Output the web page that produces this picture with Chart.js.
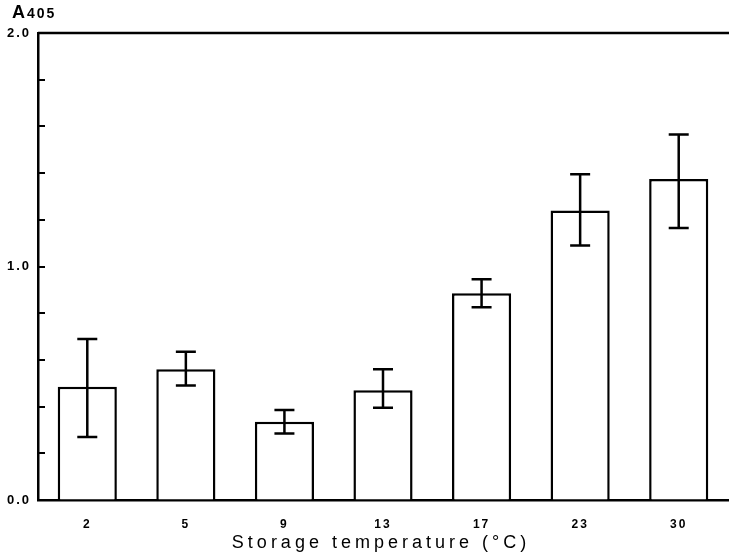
<!DOCTYPE html>
<html>
<head>
<meta charset="utf-8">
<script src="https://cdn.jsdelivr.net/npm/chart.js@4"></script>
<style>
  body { margin: 0; background: #fff; }
</style>
</head>
<body>
<canvas id="bar-chart" width="729" height="556"></canvas>
<script>
var temps = ['2', '5', '9', '13', '17', '23', '30'];
var means = [0.485, 0.56, 0.335, 0.47, 0.885, 1.24, 1.375];
var upper = [0.69, 0.635, 0.385, 0.56, 0.945, 1.395, 1.565];
var lower = [0.27, 0.49, 0.285, 0.395, 0.825, 1.09, 1.165];

var ctx = document.getElementById('bar-chart');

// error bars, inward y ticks, top frame line and the letter-spaced text
var extras = {
  id: 'extras',
  beforeDraw: function (chart) {
    chart.ctx.letterSpacing = '2px';
  },
  afterDatasetsDraw: function (chart) {
    var c = chart.ctx;
    var y = chart.scales.y;
    var meta = chart.getDatasetMeta(0);
    c.save();
    c.strokeStyle = '#000';
    c.lineWidth = 2.5;
    meta.data.forEach(function (bar, i) {
      var hi = y.getPixelForValue(upper[i]);
      var lo = y.getPixelForValue(lower[i]);
      c.beginPath();
      c.moveTo(bar.x, hi);
      c.lineTo(bar.x, lo);
      c.moveTo(bar.x - 10, hi);
      c.lineTo(bar.x + 10, hi);
      c.moveTo(bar.x - 10, lo);
      c.lineTo(bar.x + 10, lo);
      c.stroke();
    });
    c.restore();
  },
  afterDraw: function (chart) {
    var c = chart.ctx;
    var a = chart.chartArea;
    var y = chart.scales.y;
    c.save();
    c.strokeStyle = '#000';
    c.lineWidth = 2.5;
    c.beginPath();
    c.moveTo(a.left, a.top);
    c.lineTo(chart.width, a.top);
    c.stroke();

    c.lineWidth = 2;
    c.beginPath();
    y.ticks.forEach(function (t) {
      var py = Math.round(y.getPixelForValue(t.value));
      c.moveTo(a.left, py);
      c.lineTo(a.left + 7, py);
    });
    c.stroke();

    c.fillStyle = '#000';
    c.textBaseline = 'alphabetic';
    c.textAlign = 'left';
    c.letterSpacing = '0px';
    c.font = 'bold 18px "Liberation Sans", Arial, sans-serif';
    c.fillText('A', 12, 18);
    c.letterSpacing = '2px';
    c.font = 'bold 14px "Liberation Sans", Arial, sans-serif';
    c.fillText('405', 27, 18);

    c.textAlign = 'center';
    c.letterSpacing = '4px';
    c.font = '18px "Liberation Sans", Arial, sans-serif';
    c.fillText('Storage temperature (\u00B0C)', (a.left + a.right) / 2 - 2, 548);
    c.restore();
  }
};

var myBarChart = new Chart(ctx, {
  type: 'bar',
  data: {
    labels: temps,
    datasets: [{
      data: means,
      backgroundColor: '#fff',
      borderColor: '#000',
      borderWidth: 2.5,
      barPercentage: 0.6,
      categoryPercentage: 1
    }]
  },
  options: {
    responsive: false,
    animation: false,
    layout: {
      padding: { top: 33, right: 1, left: 0, bottom: 0 }
    },
    plugins: {
      legend: { display: false },
      tooltip: { enabled: false }
    },
    scales: {
      x: {
        grid: { display: false },
        border: { display: true, color: '#000', width: 2.5 },
        ticks: {
          color: '#000',
          padding: 9,
          font: { family: '"Liberation Sans", Arial, sans-serif', size: 12, weight: 'bold' }
        },
        afterFit: function (scale) { scale.height = 56; }
      },
      y: {
        min: 0,
        max: 2,
        grid: {
          drawOnChartArea: false,
          drawTicks: false
        },
        border: { display: true, color: '#000', width: 2.5 },
        ticks: {
          stepSize: 0.2,
          autoSkip: false,
          color: '#000',
          padding: 7,
          font: { family: '"Liberation Sans", Arial, sans-serif', size: 13, weight: 'bold' },
          callback: function (v) {
            return Math.abs(v - Math.round(v)) < 1e-6 ? Math.round(v).toFixed(1) : '';
          }
        },
        afterFit: function (scale) { scale.width = 38; }
      }
    }
  },
  plugins: [extras]
});
</script>
</body>
</html>
